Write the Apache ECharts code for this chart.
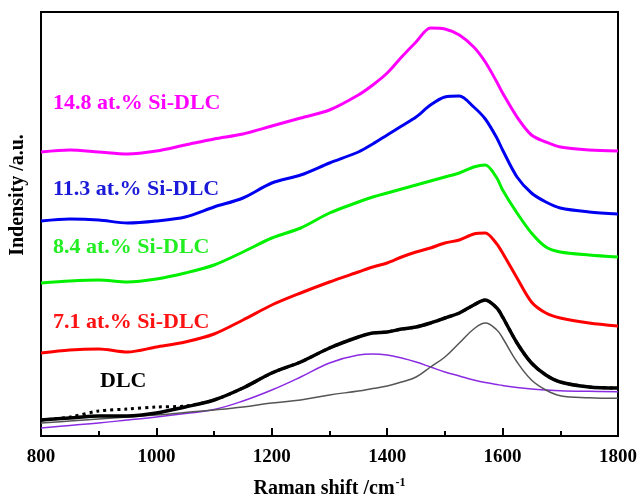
<!DOCTYPE html>
<html>
<head>
<meta charset="utf-8">
<script src="https://cdn.jsdelivr.net/npm/echarts@6/dist/echarts.min.js"></script>
<style>
    html, body { margin: 0; padding: 0; background: #fff; }
    #chart { width: 639px; height: 496px; }
</style>
</head>
<body>
<div id="chart"></div>
<script>
// Raman shift (cm-1) sample points
var shift = [800, 850, 900, 950, 1000, 1050, 1100, 1150, 1200, 1250, 1300, 1350, 1375, 1400, 1425,
             1450, 1475, 1500, 1525, 1550, 1570, 1590, 1600, 1625, 1650, 1675, 1700, 1750, 1800];

// intensity (a.u., offset stacked)
var si148 = [284, 286, 284, 282, 285, 291, 297, 302, 310, 318, 326, 341, 351, 363, 379,
             394, 408, 407, 401, 389, 374, 354, 343, 319, 301, 294, 289, 286, 285];
var si113 = [215, 217, 216, 213, 215, 219, 229, 238, 253, 261, 273, 284, 292, 301, 310,
             319, 331, 339, 340, 329, 317, 298, 286, 259, 243, 234, 228, 224, 222];
var si84 = [153, 155, 156, 154, 157, 163, 171, 184, 198, 208, 223, 234, 239, 243, 247,
            251, 255, 259, 263, 269, 271, 258, 246, 223, 203, 189, 184, 181, 179];
var si71 = [83, 86, 87, 84, 89, 94, 102, 116, 131, 143, 154, 164, 169, 173, 179,
            184, 188, 193, 196, 202, 203, 192, 183, 158, 134, 123, 118, 113, 110];
var dlc = [16, 18, 20, 20, 23, 29, 36, 48, 63, 74, 88, 99, 103, 104, 107,
           109, 113, 118, 123, 131, 136, 128, 119, 93, 73, 61, 54, 49, 48];
var dlcFit = [16, 19, 25, 27, 29, 30, 36, 48, 63, 74, 88, 99, 103, 104, 107,
              109, 113, 118, 123, 131, 136, 128, 119, 93, 73, 61, 54, 49, 48];
var dPeak = [8, 10.5, 13, 16, 19, 22.5, 26.5, 35, 46, 59, 73, 81, 82, 81, 78,
             74, 69, 64, 60, 56, 53.5, 51.5, 50.5, 48.5, 47, 46, 45.3, 44.7, 44.3];
var gPeak = [13, 15, 17, 19, 21, 23.5, 26, 29, 33, 36, 41, 45, 47.5, 50, 54,
             59, 69, 79, 93, 107, 113, 106, 98, 74, 56, 46, 40.3, 38.3, 37.7];

var xTicks = [800, 1000, 1200, 1400, 1600, 1800];

function pairs(ys) {
    return shift.map(function (x, i) { return [x, ys[i]]; });
}

var serif = '"Times New Roman", "Liberation Serif", serif';

function lineSeries(name, ys, color, width, type, smooth) {
    return {
        name: name,
        type: 'line',
        data: pairs(ys),
        symbol: 'none',
        smooth: smooth,
        silent: true,
        lineStyle: { color: color, width: width, type: type || 'solid' }
    };
}

function label(text, x, y, color) {
    return {
        type: 'text',
        left: x,
        top: y - 12,
        style: {
            text: text,
            fill: color,
            font: 'bold 22px ' + serif
        }
    };
}

var chart = echarts.init(document.getElementById('chart'));
var option = {
    animation: false,
    backgroundColor: '#fff',
    grid: {
        left: 41,
        right: 21,
        top: 12,
        bottom: 60,
        outerBoundsMode: 'none',
        containLabel: false,
        show: true,
        borderColor: '#000',
        borderWidth: 2
    },
    xAxis: {
        type: 'value',
        min: 800,
        max: 1800,
        interval: 200,
        name: 'Raman shift /cm{sup|-1}',
        nameLocation: 'middle',
        nameGap: 41,
        nameTextStyle: {
            fontFamily: serif,
            fontWeight: 'bold',
            fontSize: 20,
            color: '#000',
            rich: {
                sup: { fontFamily: serif, fontWeight: 'bold', fontSize: 12, verticalAlign: 'top', padding: [0, 0, 12, 1] }
            }
        },
        axisLine: { lineStyle: { color: '#000', width: 2 } },
        axisTick: { inside: true, length: 8, lineStyle: { color: '#000', width: 2 } },
        minorTick: { show: true, splitNumber: 2, length: 5, lineStyle: { color: '#000', width: 2 } },
        splitLine: { show: false },
        axisLabel: {
            margin: 12,
            fontFamily: serif,
            fontWeight: 'bold',
            fontSize: 19,
            color: '#000',
            formatter: function (v) { return xTicks.indexOf(v) >= 0 ? String(v) : ''; }
        }
    },
    yAxis: {
        type: 'value',
        min: 0,
        max: 424,
        axisLine: { show: true, lineStyle: { color: '#000', width: 2 } },
        axisTick: { show: false },
        axisLabel: { show: false },
        splitLine: { show: false }
    },
    graphic: [
        label('14.8 at.% Si-DLC', 53, 104, '#ff00ff'),
        label('11.3 at.% Si-DLC', 53, 190, '#1a1ad8'),
        label('8.4 at.% Si-DLC', 53, 248, '#22ee22'),
        label('7.1 at.% Si-DLC', 53, 323, '#ff1111'),
        label('DLC', 100, 382, '#000'),
        {
            type: 'text',
            x: 18,
            y: 195,
            rotation: Math.PI / 2,
            style: {
                text: 'Indensity /a.u.',
                fill: '#000',
                font: 'bold 20px ' + serif,
                align: 'center',
                verticalAlign: 'middle'
            }
        }
    ],
    series: [
        lineSeries('D', dPeak, '#8a2be2', 1.5, 'solid', 0.4),
        lineSeries('G', gPeak, '#555555', 1.5, 'solid', 0.4),
        lineSeries('fit', dlcFit, '#000', 3, [3, 4], 0.3),
        lineSeries('DLC', dlc, '#000', 3.5, 'solid', 0.3),
        lineSeries('7.1 at.% Si-DLC', si71, '#ff0000', 3, 'solid', 0.3),
        lineSeries('8.4 at.% Si-DLC', si84, '#00f000', 3, 'solid', 0.3),
        lineSeries('11.3 at.% Si-DLC', si113, '#0000f0', 3, 'solid', 0.3),
        lineSeries('14.8 at.% Si-DLC', si148, '#ff00ff', 3, 'solid', 0.3)
    ]
};
chart.setOption(option);
</script>
</body>
</html>
